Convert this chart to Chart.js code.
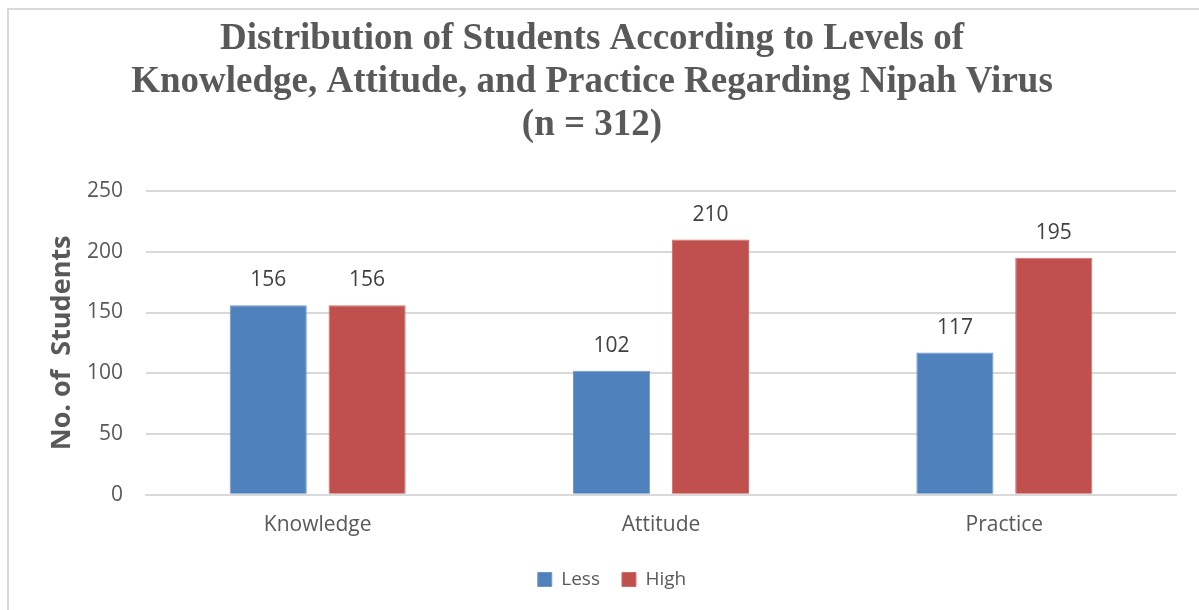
<!DOCTYPE html>
<html>
<head>
<meta charset="utf-8">
<script src="https://cdn.jsdelivr.net/npm/chart.js@4/dist/chart.umd.min.js"></script>
<style>
  html, body { margin: 0; padding: 0; background: #fff; }
  #wrap { width: 1199px; height: 610px; position: relative; }
</style>
</head>
<body>
<div id="wrap"><canvas id="kapChart" width="1199" height="610"></canvas></div>
<script>
// --- DATA ---
const categories = ["Knowledge", "Attitude", "Practice"];
const lessValues = [156, 102, 117];
const highValues = [156, 210, 195];
const seriesNames = ["Less", "High"];
const titleLines = [
  "Distribution of Students According to Levels of",
  "Knowledge, Attitude, and Practice Regarding Nipah Virus",
  "(n = 312)"
];
const yTitle = "No. of  Students";

const BLUE = "#4F81BD";
const RED = "#C0504D";
const GREY = "#595959";
const SANS = "'Open Sans', 'Noto Sans', sans-serif";

// outer frame like the office chart border
const framePlugin = {
  id: "frame",
  afterLayout(chart) {
    // legend sits under the plot centre, not the canvas centre
    chart.legend.left += 20;
    chart.legend.right += 20;
  },
  beforeDraw(chart) {
    const ctx = chart.ctx;
    ctx.save();
    ctx.fillStyle = "#fff";
    ctx.fillRect(0, 0, chart.width, chart.height);
    ctx.strokeStyle = "#d9d9d9";
    ctx.lineWidth = 2;
    ctx.strokeRect(8, 9, chart.width + 20, chart.height + 20);
    ctx.restore();
  }
};

// value labels on top of each bar
const valueLabels = {
  id: "valueLabels",
  afterDatasetsDraw(chart) {
    const ctx = chart.ctx;
    ctx.save();
    ctx.font = "21px " + SANS;
    ctx.fillStyle = "#404040";
    ctx.textAlign = "center";
    ctx.textBaseline = "middle";
    chart.data.datasets.forEach((ds, i) => {
      chart.getDatasetMeta(i).data.forEach((bar, j) => {
        ctx.fillText(ds.data[j], bar.x, bar.y - 25);
      });
    });
    ctx.restore();
  }
};

const ctx = document.getElementById("kapChart").getContext("2d");
new Chart(ctx, {
  type: "bar",
  data: {
    labels: categories,
    datasets: [
      { label: seriesNames[0], data: lessValues, backgroundColor: BLUE, borderColor: "#6f98c9", borderWidth: 1,
        categoryPercentage: 0.576, barPercentage: 0.78 },
      { label: seriesNames[1], data: highValues, backgroundColor: RED, borderColor: "#cc6f6c", borderWidth: 1,
        categoryPercentage: 0.576, barPercentage: 0.78 }
    ]
  },
  options: {
    responsive: false,
    animation: false,
    layout: { padding: { left: 8, right: 23, top: 8, bottom: 11 } },
    plugins: {
      title: {
        display: true,
        text: titleLines,
        color: GREY,
        font: { family: "'Liberation Serif', 'Times New Roman', serif", size: 37, weight: "bold", lineHeight: 1.162 },
        padding: { top: 10, bottom: 44 }
      },
      legend: {
        position: "bottom",
        labels: {
          color: GREY,
          font: { family: SANS, size: 19 },
          boxWidth: 14,
          boxHeight: 14,
          padding: 22
        }
      },
      tooltip: { enabled: false }
    },
    scales: {
      x: {
        grid: { display: false },
        border: { color: "#d9d9d9", width: 2 },
        ticks: { color: GREY, font: { family: SANS, size: 21 }, padding: 10 }
      },
      y: {
        min: 0,
        max: 250,
        afterFit(scale) { scale.width = 138; },
        ticks: { stepSize: 50, color: GREY, font: { family: SANS, size: 21 }, padding: 23 },
        grid: { color: "#d9d9d9", lineWidth: 2, drawTicks: false },
        border: { display: false },
        title: {
          display: true,
          text: yTitle,
          color: GREY,
          font: { family: SANS, size: 27, weight: "bold" },
          padding: { top: 38, bottom: 0 }
        }
      }
    }
  },
  plugins: [framePlugin, valueLabels]
});
</script>
</body>
</html>
